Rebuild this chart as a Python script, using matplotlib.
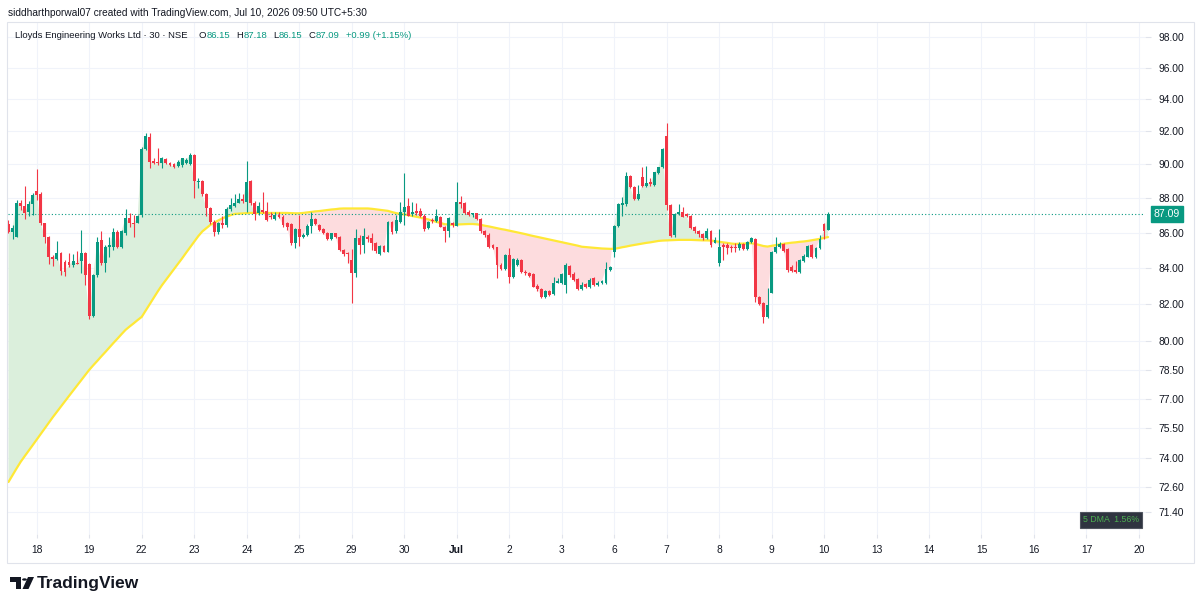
"""
Lloyds Engineering Works - 30 min candles with 5 DMA (TradingView snapshot look)
"""
import numpy as np
import matplotlib.pyplot as plt
from matplotlib.patches import Rectangle, Polygon, Circle
from matplotlib.ticker import FixedLocator, NullLocator
from matplotlib.transforms import blended_transform_factory

plt.rcParams['font.family'] = ['Liberation Sans', 'DejaVu Sans']

# ---------------------- DATA ----------------------
# 30 min bars, Jun 17 12:15 -> Jul 10 09:45 (13 bars per session)
opens = [
    86.48, 86.06, 85.78, 87.71, 87.55, 87.19, 87.66,
    88.42, 88.23, 86.54, 85.74, 84.64, 84.51, 84.83, 84.35, 84.35, 84.17, 84.30, 84.41, 84.86,
    84.23, 81.36, 83.61, 85.59, 84.26, 85.17, 85.17, 86.03, 85.17, 85.97, 86.86, 86.58, 86.58,
    87.02, 90.92, 91.64, 90.23, 90.17, 90.07, 90.33, 90.07, 90.01, 89.93, 89.97, 90.07, 90.01,
    90.57, 88.94, 89.02, 88.23, 87.44, 86.63, 86.05, 86.58, 86.45, 87.35, 87.55, 87.74, 87.96,
    87.80, 89.02, 87.74, 87.12, 87.31, 87.27, 86.96, 86.77, 87.00, 86.88, 86.54, 86.50, 85.40,
    86.20, 85.74, 85.87, 86.39, 86.79, 86.45, 86.22, 85.97, 85.63, 85.97, 85.78, 85.02, 84.86,
    84.45, 83.71, 85.68, 85.30, 85.74, 85.68, 85.40, 84.78, 85.25, 84.92, 86.62, 86.07, 86.63,
    87.21, 87.55, 87.06, 87.25, 87.25, 86.98, 86.26, 86.75, 86.69, 86.92, 86.35, 86.12, 86.58,
    86.39, 87.76, 87.71, 87.21, 87.06, 87.12, 86.79, 86.07, 85.87, 85.27, 85.17, 84.17, 83.95,
    84.73, 83.52, 84.17, 84.45, 83.80, 83.74, 83.67, 83.00, 82.82, 82.41, 82.73, 82.56, 83.19,
    83.15, 83.06, 84.11, 83.67, 83.38, 82.82, 83.12, 82.93, 83.43, 83.06, 83.15, 83.15, 83.89,
    84.92, 86.39, 87.60, 87.64, 89.32, 88.64, 87.94, 89.24, 88.72, 88.94, 88.78, 89.47, 89.83,
    91.72, 87.60, 85.85, 87.08, 87.21, 87.06, 86.96, 86.32, 86.07, 85.93, 85.68, 86.11, 85.44,
    84.26, 85.30, 85.27, 85.21, 85.17, 85.12, 85.35, 85.06, 85.46, 85.65, 82.38, 82.05, 81.29,
    82.63, 84.92, 85.17, 85.36, 85.06, 84.07, 83.89, 83.76, 84.41, 84.64, 85.30, 84.64, 85.12,
    86.50, 86.15,
]
highs = [
    86.73, 86.45, 87.90, 87.90, 88.72, 87.86, 88.29,
    89.71, 88.38, 86.58, 85.82, 84.73, 85.53, 84.92, 84.45, 84.86, 84.79, 84.96, 86.16, 84.90,
    84.30, 83.67, 85.78, 86.07, 85.30, 85.78, 86.26, 86.16, 86.16, 87.35, 87.12, 87.02, 87.02,
    91.08, 91.89, 91.89, 90.38, 90.98, 90.44, 90.38, 90.13, 90.07, 90.27, 90.41, 90.38, 90.68,
    90.61, 89.18, 89.08, 88.29, 87.50, 86.73, 86.62, 86.96, 87.50, 88.00, 88.25, 88.33, 88.25,
    90.21, 89.08, 87.84, 87.80, 88.38, 87.80, 87.21, 87.21, 87.21, 87.02, 86.63, 86.54, 86.26,
    87.02, 85.97, 86.50, 87.21, 86.83, 86.50, 86.26, 86.05, 86.01, 86.01, 85.82, 85.06, 84.92,
    85.08, 86.20, 85.87, 86.26, 85.87, 85.97, 85.49, 85.30, 85.30, 86.67, 86.67, 87.02, 87.80,
    89.51, 88.00, 87.80, 87.74, 87.41, 87.06, 86.69, 86.83, 87.35, 86.96, 86.39, 86.92, 86.63,
    88.96, 88.13, 87.80, 87.31, 87.16, 87.16, 86.83, 86.16, 85.97, 85.35, 85.21, 84.26, 84.79,
    85.12, 84.54, 84.54, 84.49, 83.89, 83.80, 83.71, 83.12, 82.88, 82.78, 82.78, 83.52, 83.43,
    83.74, 84.26, 84.17, 83.80, 83.43, 83.24, 83.19, 83.47, 83.52, 83.30, 83.34, 84.35, 84.11,
    86.45, 87.74, 88.06, 89.57, 89.38, 88.72, 88.78, 89.83, 89.91, 89.18, 89.57, 89.87, 91.02,
    92.54, 87.66, 87.12, 87.64, 87.50, 87.12, 87.02, 86.39, 86.16, 86.01, 86.26, 86.16, 85.78,
    86.20, 85.44, 85.40, 85.30, 85.40, 85.49, 85.44, 85.53, 85.78, 85.68, 82.45, 82.14, 82.88,
    84.98, 85.78, 85.49, 85.44, 85.12, 84.17, 84.41, 84.49, 84.78, 85.30, 85.35, 85.21, 85.87,
    86.54, 87.18,
]
lows = [
    85.97, 85.63, 85.74, 87.31, 86.77, 86.96, 87.02,
    87.90, 86.45, 85.40, 84.23, 84.11, 84.45, 83.61, 83.56, 84.04, 84.07, 84.21, 83.70, 83.06,
    81.18, 81.29, 83.52, 84.17, 83.80, 84.64, 85.02, 85.15, 85.12, 85.87, 86.35, 85.74, 86.54,
    86.92, 90.88, 89.77, 90.01, 89.97, 89.77, 90.03, 89.93, 89.77, 89.87, 89.87, 90.01, 89.97,
    88.00, 88.58, 88.13, 86.94, 86.50, 85.82, 85.93, 86.27, 86.32, 87.25, 87.49, 87.69, 87.72,
    87.21, 87.60, 86.73, 87.02, 87.12, 86.69, 86.77, 86.73, 86.83, 86.32, 86.16, 85.30, 85.12,
    85.25, 85.68, 85.82, 85.97, 86.45, 86.11, 85.93, 85.59, 85.59, 85.68, 84.98, 84.70, 84.26,
    82.05, 83.49, 84.78, 84.83, 85.49, 85.02, 84.83, 84.73, 84.88, 84.88, 85.93, 85.97, 86.54,
    86.45, 86.96, 86.98, 87.02, 86.92, 86.11, 86.20, 86.58, 86.63, 86.32, 85.49, 85.74, 86.35,
    86.36, 87.41, 87.08, 86.96, 86.92, 86.73, 85.97, 85.74, 85.12, 85.06, 83.43, 83.89, 83.89,
    83.15, 83.47, 84.11, 83.71, 83.61, 83.52, 82.93, 82.74, 82.32, 82.36, 82.46, 82.50, 83.15,
    83.12, 82.60, 83.52, 83.30, 82.78, 82.78, 82.88, 82.88, 83.00, 83.02, 83.12, 83.12, 83.85,
    84.64, 86.35, 86.96, 87.55, 88.58, 87.90, 87.90, 88.68, 88.64, 88.72, 88.72, 89.44, 89.77,
    87.31, 85.74, 85.78, 87.02, 86.88, 86.88, 86.20, 85.97, 85.78, 85.59, 85.63, 85.21, 85.40,
    84.11, 84.45, 84.79, 84.92, 84.92, 85.02, 85.02, 85.02, 85.40, 82.14, 81.96, 80.96, 81.23,
    82.60, 84.83, 85.12, 84.92, 83.80, 83.76, 83.71, 83.71, 84.35, 84.60, 84.58, 84.58, 85.06,
    85.63, 86.15,
]
closes = [
    86.06, 86.26, 87.74, 87.55, 87.15, 87.66, 88.19,
    88.19, 86.54, 85.74, 84.64, 84.51, 84.83, 83.85, 83.80, 84.17, 84.39, 84.23, 84.86, 83.61,
    81.36, 83.61, 85.46, 84.26, 85.21, 85.30, 86.03, 85.17, 86.10, 86.83, 86.58, 86.50, 86.94,
    90.92, 91.72, 90.17, 90.07, 90.07, 90.38, 90.07, 89.97, 89.87, 90.17, 90.38, 90.27, 90.57,
    89.02, 89.02, 88.23, 87.44, 86.63, 86.05, 86.56, 86.42, 87.39, 87.58, 87.71, 87.94, 87.84,
    88.98, 87.74, 87.08, 87.55, 87.19, 86.73, 86.88, 87.02, 86.88, 86.45, 86.35, 85.40, 86.20,
    85.76, 85.87, 86.39, 86.79, 86.50, 86.16, 85.97, 85.63, 85.97, 85.74, 85.02, 84.79, 84.79,
    83.71, 85.68, 85.30, 85.82, 85.63, 85.40, 84.98, 85.25, 84.92, 86.63, 86.05, 86.73, 87.21,
    87.47, 86.98, 87.21, 87.12, 86.98, 86.20, 86.63, 86.67, 86.96, 86.35, 86.12, 86.83, 86.45,
    87.80, 87.66, 87.15, 87.02, 87.12, 86.79, 86.07, 85.87, 85.21, 85.15, 84.17, 83.95, 84.73,
    83.52, 84.49, 84.45, 83.80, 83.71, 83.56, 82.96, 82.82, 82.41, 82.73, 82.50, 83.15, 83.28,
    83.67, 84.17, 83.61, 83.34, 82.82, 83.06, 82.93, 83.34, 83.06, 83.19, 83.30, 83.93, 84.04,
    86.39, 87.64, 87.71, 89.32, 88.64, 87.94, 88.25, 88.72, 88.88, 88.84, 89.53, 89.83, 90.94,
    87.60, 85.82, 87.06, 87.21, 86.92, 86.96, 86.26, 86.07, 85.93, 85.68, 86.07, 85.27, 85.59,
    85.21, 85.21, 85.12, 85.12, 85.12, 85.36, 85.06, 85.46, 85.72, 82.41, 82.01, 81.29, 81.96,
    84.92, 85.17, 85.36, 84.98, 83.89, 83.83, 83.76, 84.45, 84.70, 85.25, 84.64, 85.12, 85.63,
    86.10, 87.09,
]
dma5 = [
    72.84, 73.17, 73.50, 73.82, 74.10, 74.37, 74.65, 74.93, 75.21, 75.50,
    75.78, 76.06, 76.33, 76.60, 76.87, 77.14, 77.41, 77.68, 77.95, 78.22,
    78.49, 78.73, 78.96, 79.20, 79.43, 79.67, 79.91, 80.14, 80.38, 80.61,
    80.79, 80.96, 81.14, 81.31, 81.66, 82.01, 82.36, 82.71, 83.04, 83.34,
    83.64, 83.94, 84.24, 84.54, 84.86, 85.17, 85.49, 85.80, 86.07, 86.26,
    86.45, 86.58, 86.71, 86.83, 86.92, 87.01, 87.08, 87.10, 87.11, 87.13,
    87.14, 87.14, 87.14, 87.14, 87.14, 87.14, 87.14, 87.14, 87.14, 87.14,
    87.13, 87.12, 87.12, 87.14, 87.17, 87.20, 87.23, 87.25, 87.28, 87.31,
    87.34, 87.36, 87.39, 87.40, 87.40, 87.40, 87.40, 87.40, 87.40, 87.40,
    87.38, 87.35, 87.32, 87.29, 87.26, 87.19, 87.13, 87.08, 87.05, 87.01,
    86.96, 86.92, 86.87, 86.82, 86.76, 86.69, 86.62, 86.56, 86.49, 86.47,
    86.46, 86.47, 86.48, 86.49, 86.50, 86.50, 86.48, 86.45, 86.40, 86.36,
    86.31, 86.26, 86.21, 86.17, 86.12, 86.07, 86.02, 85.97, 85.92, 85.86,
    85.81, 85.76, 85.71, 85.66, 85.61, 85.56, 85.51, 85.46, 85.41, 85.36,
    85.31, 85.26, 85.20, 85.18, 85.16, 85.14, 85.12, 85.10, 85.09, 85.08,
    85.08, 85.12, 85.17, 85.21, 85.26, 85.30, 85.34, 85.38, 85.42, 85.45,
    85.49, 85.53, 85.55, 85.56, 85.57, 85.58, 85.59, 85.59, 85.59, 85.59,
    85.58, 85.57, 85.56, 85.56, 85.55, 85.52, 85.48, 85.45, 85.42, 85.38,
    85.36, 85.37, 85.38, 85.39, 85.40, 85.36, 85.30, 85.24, 85.21, 85.25,
    85.29, 85.33, 85.37, 85.40, 85.43, 85.45, 85.48, 85.50, 85.53, 85.57,
    85.61, 85.65, 85.70, 85.75,
]

day_labels = ["18", "19", "22", "23", "24", "25", "29", "30", "Jul", "2", "3",
              "6", "7", "8", "9", "10", "13", "14", "15", "16", "17", "20"]
price_ticks = [71.40, 72.60, 74.00, 75.50, 77.00, 78.50, 80.00, 82.00, 84.00,
               86.00, 88.00, 90.00, 92.00, 94.00, 96.00, 98.00]

BARS_PER_DAY = 13
FIRST_FULL_DAY_BAR = 7   # first bar of Jun 18

# ---------------------- STYLE ----------------------
GREEN = "#089981"
RED = "#f23645"
FILL_G = "#dbefdc"
FILL_R = "#fddcde"
YELLOW = "#ffe836"
TEXT = "#131722"
GRID = "#f0f3fa"
FRAME = "#e0e3eb"

W, H = 1200, 609
def fx(px):
    return px / W
def fy(py):
    return 1 - py / H

fig = plt.figure(figsize=(W / 100, H / 100), dpi=100)
fig.patch.set_facecolor("white")

# plot region in pixels
PL, PR, PT, PB = 8, 1145, 22, 534
ax = fig.add_axes([fx(PL), fy(PB), fx(PR) - fx(PL), fy(PT) - fy(PB)])

o = np.array(opens)
h = np.array(highs)
l = np.array(lows)
c = np.array(closes)
ma = np.array(dma5)
x = np.arange(len(c))

# area between close and the 5 DMA
ax.fill_between(x, c, ma, where=c >= ma, interpolate=True, color=FILL_G, lw=0, zorder=1)
ax.fill_between(x, c, ma, where=c < ma, interpolate=True, color=FILL_R, lw=0, zorder=1)
ax.plot(x, ma, color=YELLOW, lw=1.6, zorder=2, solid_capstyle="round")

# candles
up = c >= o
cols = np.where(up, GREEN, RED)
ax.vlines(x, l, h, colors=cols, lw=0.8, zorder=3)
body_lo = np.minimum(o, c)
body_h = np.maximum(np.abs(c - o), 0.03)
ax.bar(x, body_h, bottom=body_lo, width=0.72, color=cols, linewidth=0, zorder=4)

# last price line
ax.axhline(c[-1], color=GREEN, lw=0.8, ls=(0, (1, 2)), zorder=2)

# axes
ax.set_yscale("log")
ax.set_ylim(70.36, 98.96)
ax.yaxis.set_major_locator(FixedLocator(price_ticks))
ax.yaxis.set_minor_locator(NullLocator())
ax.set_yticklabels([f"{t:.2f}" for t in price_ticks])
ax.yaxis.tick_right()

day_pos = [FIRST_FULL_DAY_BAR + BARS_PER_DAY * k for k in range(len(day_labels))]
ax.set_xlim(-0.12, 281.5)
ax.set_xticks(day_pos)
ax.set_xticklabels(day_labels)
for t in ax.get_xticklabels():
    if t.get_text() == "Jul":
        t.set_fontweight("bold")

ax.tick_params(axis="y", length=4, width=0.8, color=FRAME, pad=6, labelsize=7.4, labelcolor=TEXT)
ax.tick_params(axis="x", length=3, width=0.8, color=FRAME, pad=5, labelsize=7.4, labelcolor=TEXT)
ax.grid(True, color=GRID, lw=0.8)
ax.set_axisbelow(True)
for s in ax.spines.values():
    s.set_visible(False)

# last price tag on the scale
tr = blended_transform_factory(ax.transAxes, ax.transData)
ax.text(1.0 + 9 / (PR - PL), c[-1], f"{c[-1]:.2f}", transform=tr, ha="left", va="center",
        fontsize=7.6, color="white", zorder=6,
        bbox=dict(boxstyle="square,pad=0.3", fc=GREEN, ec=GREEN))

# frame around the chart
fig.add_artist(Rectangle((fx(7), fy(563)), (1194 - 7) / W, (563 - 22) / H, fill=False,
                         ec=FRAME, lw=0.8, transform=fig.transFigure))

# header
fig.text(fx(8), fy(13), "siddharthporwal07 created with TradingView.com, Jul 10, 2026 09:50 UTC+5:30",
         fontsize=7.25, color=TEXT, va="center", ha="left")

# legend, laid out left to right
chg = c[-1] - c[-2]
pct = chg / c[-2] * 100
legend_parts = [
    ("Lloyds Engineering Works Ltd · 30 · NSE", TEXT, 11),
    ("O", TEXT, 0.5), (f"{o[-1]:.2f}", GREEN, 6),
    ("H", TEXT, 0.5), (f"{h[-1]:.2f}", GREEN, 6),
    ("L", TEXT, 0.5), (f"{l[-1]:.2f}", GREEN, 6),
    ("C", TEXT, 0.5), (f"{c[-1]:.2f}", GREEN, 6),
    (f"{chg:+.2f} ({pct:+.2f}%)", GREEN, 0),
]
fig.canvas.draw()
renderer = fig.canvas.get_renderer()
cursor = 15
for s, col, gap in legend_parts:
    t = fig.text(fx(cursor), fy(35), s, fontsize=6.8, color=col, va="center", ha="left")
    cursor += t.get_window_extent(renderer).width + gap

# 5 DMA status box
dist = (c[-1] / ma[-1] - 1) * 100
fig.text(fx(1111), fy(520), f"5 DMA  {dist:.2f}%", fontsize=6.3, color="#4caf50",
         ha="center", va="center",
         bbox=dict(boxstyle="square,pad=0.35", fc="#2f3440", ec="#50555f", lw=0.8))

# TradingView logo
logo_col = "#131722"
fig.add_artist(Polygon([(fx(10), fy(577)), (fx(21), fy(577)), (fx(21), fy(589)),
                        (fx(16), fy(589)), (fx(16), fy(581.5)), (fx(10), fy(581.5))],
                       closed=True, fc=logo_col, ec="none", transform=fig.transFigure))
fig.add_artist(Circle((fx(24.5), fy(579.5)), 2.4 / W, fc=logo_col, ec="none",
                      transform=fig.transFigure))
fig.add_artist(Polygon([(fx(28), fy(577)), (fx(34), fy(577)), (fx(28.5), fy(589)),
                        (fx(22.5), fy(589))],
                       closed=True, fc=logo_col, ec="none", transform=fig.transFigure))
fig.text(fx(37), fy(583.5), "TradingView", fontsize=12.5, fontweight="bold", color=logo_col,
         ha="left", va="center")

plt.savefig("out.png", dpi=100, facecolor="white")
plt.close()
